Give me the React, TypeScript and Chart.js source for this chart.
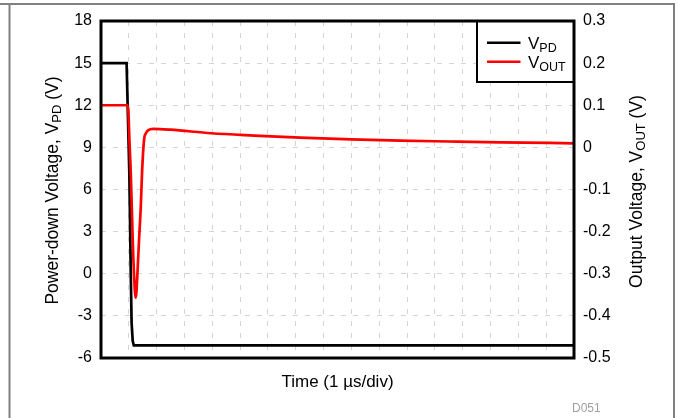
import React, { useEffect, useRef } from 'react';
import { Chart, registerables } from 'chart.js';

Chart.register(...registerables);

// ---- Data (time in divisions, 1 µs/div) ----
const vpdTime = [0, 0.92, 0.97, 1.02, 1.07, 1.1, 1.14, 1.18, 17];
const vpdValues = [15, 15, 11, 7, 0, -3.5, -4.8, -5.1, -5.1];

const voutTime = [
  0, 0.94, 0.98, 1.02, 1.07, 1.14, 1.2, 1.25, 1.31, 1.367, 1.43, 1.475, 1.547, 1.62, 1.7, 1.88,
  2.5, 3.96, 5.5, 7.16, 9, 10.76, 12.5, 14.35, 17,
];
const voutValues = [
  0.1, 0.1, 0.09, 0.02, -0.06, -0.22, -0.32, -0.357, -0.299, -0.22, -0.141, -0.06, 0.0175, 0.034,
  0.041, 0.044, 0.042, 0.0335, 0.028, 0.023, 0.019, 0.016, 0.014, 0.012, 0.0097,
];

const xTitle = 'Time (1 µs/div)';
const leftTitle = [
  { t: 'Power-down Voltage, V', sub: false },
  { t: 'PD', sub: true },
  { t: ' (V)', sub: false },
];
const rightTitle = [
  { t: 'Output Voltage, V', sub: false },
  { t: 'OUT', sub: true },
  { t: ' (V)', sub: false },
];
const legendItems = [
  { main: 'V', sub: 'PD', color: '#000000' },
  { main: 'V', sub: 'OUT', color: '#ff0000' },
];
const footnote = 'D051';

const FONT = '"Liberation Sans", Arial, Helvetica, sans-serif';
const TICK = 16;

type Part = { t: string; sub: boolean };

function richWidth(ctx: CanvasRenderingContext2D, parts: Part[], main: number, sub: number) {
  let w = 0;
  for (const p of parts) {
    ctx.font = `${p.sub ? sub : main}px ${FONT}`;
    w += ctx.measureText(p.t).width;
  }
  return w;
}

function drawRich(
  ctx: CanvasRenderingContext2D,
  parts: Part[],
  x: number,
  baseline: number,
  main: number,
  sub: number
) {
  let cx = x;
  ctx.textBaseline = 'alphabetic';
  ctx.textAlign = 'left';
  for (const p of parts) {
    ctx.font = `${p.sub ? sub : main}px ${FONT}`;
    ctx.fillText(p.t, cx, baseline + (p.sub ? 3 : 0));
    cx += ctx.measureText(p.t).width;
  }
}

const decorPlugin = {
  id: 'decor',
  beforeDraw(chart: any) {
    const { ctx, width, height } = chart;
    ctx.save();
    ctx.fillStyle = '#ffffff';
    ctx.fillRect(0, 0, width, height);
    ctx.strokeStyle = '#808080';
    ctx.lineWidth = 2;
    ctx.beginPath();
    ctx.moveTo(0, 4);
    ctx.lineTo(675, 4);
    ctx.moveTo(9.5, 4);
    ctx.lineTo(9.5, height);
    ctx.moveTo(674, 4);
    ctx.lineTo(674, height);
    ctx.stroke();
    ctx.restore();
  },
  afterDraw(chart: any) {
    const { ctx, chartArea: a } = chart;
    ctx.save();
    // Legend box
    const lw = 97;
    const lh = 61;
    const lx = a.right - lw;
    const ly = a.top;
    ctx.fillStyle = '#ffffff';
    ctx.fillRect(lx, ly, lw, lh);
    ctx.strokeStyle = '#000';
    ctx.lineWidth = 2;
    ctx.strokeRect(lx, ly, lw, lh);
    legendItems.forEach((it, i) => {
      const y = ly + 21.7 + i * 19;
      ctx.strokeStyle = it.color;
      ctx.lineWidth = 2.5;
      ctx.beginPath();
      ctx.moveTo(lx + 10, y);
      ctx.lineTo(lx + 43.5, y);
      ctx.stroke();
      ctx.fillStyle = '#000';
      drawRich(
        ctx,
        [
          { t: it.main, sub: false },
          { t: it.sub, sub: true },
        ],
        lx + 51,
        y + 6,
        17,
        12.5
      );
    });

    // Plot frame
    ctx.strokeStyle = '#000';
    ctx.lineWidth = 3;
    ctx.strokeRect(a.left, a.top, a.right - a.left, a.bottom - a.top);

    ctx.fillStyle = '#000';
    // Left title
    ctx.save();
    ctx.translate(58, (a.top + a.bottom) / 2 + 1);
    ctx.rotate(-Math.PI / 2);
    drawRich(ctx, leftTitle, -richWidth(ctx, leftTitle, 17.5, 13) / 2, 0, 17.5, 13);
    ctx.restore();
    // Right title
    ctx.save();
    ctx.translate(642, (a.top + a.bottom) / 2 + 2);
    ctx.rotate(-Math.PI / 2);
    drawRich(ctx, rightTitle, -richWidth(ctx, rightTitle, 17.5, 13) / 2, 0, 17.5, 13);
    ctx.restore();
    // X title
    ctx.font = `17px ${FONT}`;
    ctx.textAlign = 'center';
    ctx.textBaseline = 'alphabetic';
    ctx.fillText(xTitle, (a.left + a.right) / 2, 387);
    // Footnote
    ctx.font = `12px ${FONT}`;
    ctx.fillStyle = '#a0a0a0';
    ctx.textAlign = 'left';
    ctx.fillText(footnote, 572, 412);
    ctx.restore();
  },
};

const gridColor = '#d4d4d4';
const gridDash = [5, 7];

export default function App() {
  const ref = useRef<HTMLCanvasElement>(null);
  useEffect(() => {
    if (!ref.current) return;
    Chart.defaults.font.family = FONT;
    const chart = new Chart(ref.current, {
      type: 'line',
      data: {
        datasets: [
          {
            label: 'VOUT',
            data: voutTime.map((t, i) => ({ x: t, y: voutValues[i] })),
            borderColor: '#ff0000',
            borderWidth: 2.7,
            pointRadius: 0,
            yAxisID: 'y1',
            cubicInterpolationMode: 'monotone',
            order: 0,
          },
          {
            label: 'VPD',
            data: vpdTime.map((t, i) => ({ x: t, y: vpdValues[i] })),
            borderColor: '#000000',
            borderWidth: 2.7,
            pointRadius: 0,
            yAxisID: 'y',
            tension: 0,
            order: 1,
          },
        ],
      },
      options: {
        responsive: false,
        animation: false,
        devicePixelRatio: 1,
        layout: { padding: { top: 21, left: 0, right: 0, bottom: 0 } },
        plugins: { legend: { display: false }, tooltip: { enabled: false } },
        scales: {
          x: {
            type: 'linear',
            min: 0,
            max: 17,
            ticks: { display: false, stepSize: 1 },
            grid: { color: gridColor, lineWidth: 1, drawTicks: false },
            border: { display: false, dash: gridDash },
            afterFit: (s: any) => {
              s.height = 60;
            },
          },
          y: {
            position: 'left',
            min: -6,
            max: 18,
            ticks: { stepSize: 3, color: '#000', font: { size: TICK }, padding: 9 },
            grid: { color: gridColor, lineWidth: 1, drawTicks: false },
            border: { display: false, dash: gridDash },
            afterFit: (s: any) => {
              s.width = 101;
            },
          },
          y1: {
            position: 'right',
            min: -0.5,
            max: 0.3,
            ticks: {
              stepSize: 0.1,
              color: '#000',
              font: { size: TICK },
              padding: 9,
              callback: (v: any) => String(Math.round(Number(v) * 10) / 10),
            },
            grid: { drawOnChartArea: false, drawTicks: false },
            border: { display: false },
            afterFit: (s: any) => {
              s.width = 104;
            },
          },
        },
      },
      plugins: [decorPlugin],
    } as any);
    return () => chart.destroy();
  }, []);
  return (
    <div style={{ position: 'fixed', left: 0, top: 0, width: 678, height: 418, background: '#fff' }}>
      <canvas ref={ref} width={678} height={418} style={{ display: 'block', width: 678, height: 418 }} />
    </div>
  );
}
